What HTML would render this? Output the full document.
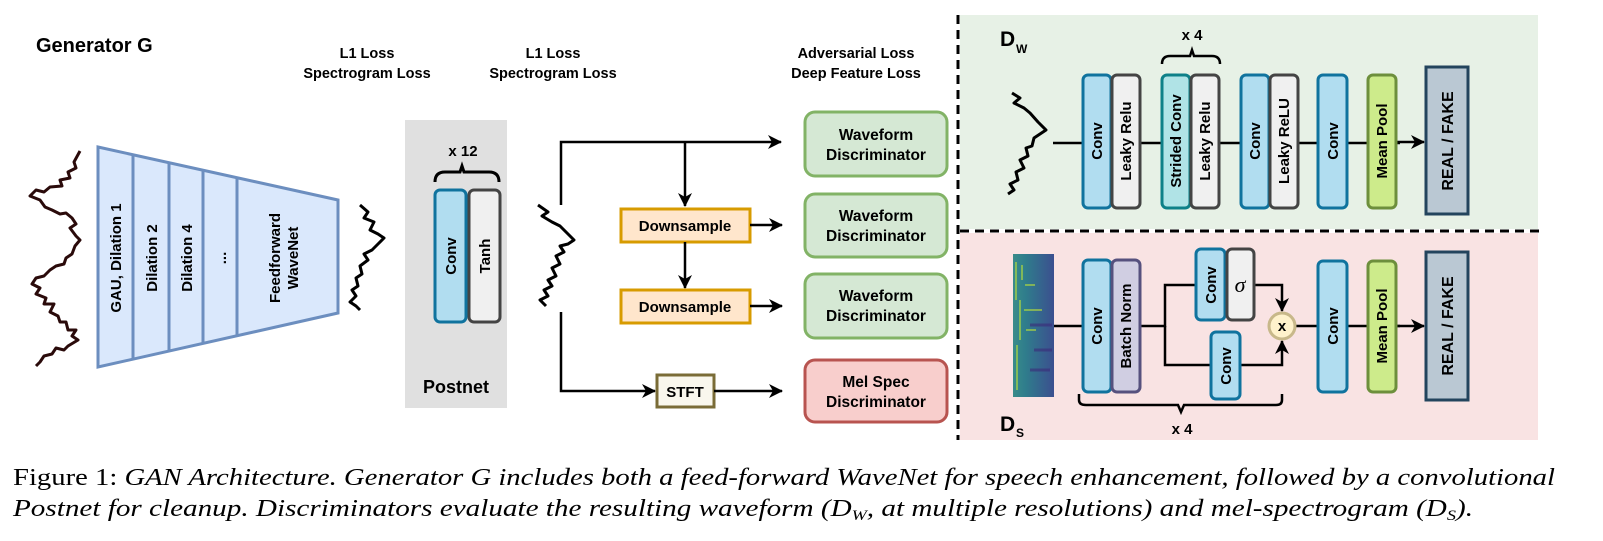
<!DOCTYPE html>
<html><head><meta charset="utf-8"><style>
html,body{margin:0;padding:0;background:#fff;width:1603px;height:541px;overflow:hidden}
text{font-family:"Liberation Sans",Arial,sans-serif;font-weight:bold}
.cap{font-family:"Liberation Serif","Times New Roman",serif;font-weight:normal;font-size:24px}
</style></head><body>
<svg width="1603" height="541" viewBox="0 0 1603 541" xmlns="http://www.w3.org/2000/svg">
<defs>
<marker id="ar" markerWidth="14" markerHeight="14" refX="13" refY="7" orient="auto" markerUnits="userSpaceOnUse"><path d="M0,0 L14,7 L0,14 L4,7 z" fill="#000"/></marker>
<linearGradient id="sp" x1="0" y1="0" x2="1" y2="0"><stop offset="0" stop-color="#3a8c8a"/><stop offset="0.3" stop-color="#2f7d8c"/><stop offset="1" stop-color="#3b4f8f"/></linearGradient>
</defs>

<rect x="960" y="15" width="578" height="214" fill="#e7f1e6"/>
<rect x="960" y="233" width="578" height="207" fill="#f9e3e3"/>
<line x1="958" y1="15" x2="958" y2="440" stroke="#000" stroke-width="3" stroke-dasharray="9,6"/>
<line x1="960" y1="231" x2="1540" y2="231" stroke="#000" stroke-width="3" stroke-dasharray="9,6"/>

<text x="36" y="52" font-size="20">Generator G</text>
<g font-size="14.5" text-anchor="middle">
<text x="367" y="58">L1 Loss</text>
<text x="367" y="78">Spectrogram Loss</text>
<text x="553" y="78">Spectrogram Loss</text>
<text x="553" y="78" dy="-20" >L1 Loss</text>
<text x="856" y="58">Adversarial Loss</text>
<text x="856" y="78">Deep Feature Loss</text>
</g>

<polyline fill="none" stroke="#2a0a0a" stroke-width="3" stroke-linejoin="round" points="80,151 74,162 76,168 68,172 70,178 60,180 62,186 50,187 44,192 36,190 30,196 40,200 45,207 52,210 60,214 66,213 72,218 76,224 70,228 76,236 80,240 75,246 72,254 66,258 64,264 56,266 50,270 44,276 36,278 32,284 40,288 36,294 46,298 44,304 54,304 50,312 58,316 60,322 66,322 68,330 76,330 72,336 78,340 68,346 64,350 56,348 52,354 44,356 40,362 36,366"/>

<polygon points="98,147 338,200 338,313 98,367" fill="#dae8fc" stroke="#6c8ebf" stroke-width="3"/>
<line x1="133" y1="155" x2="133" y2="359" stroke="#6c8ebf" stroke-width="3"/>
<line x1="169" y1="163" x2="169" y2="351" stroke="#6c8ebf" stroke-width="3"/>
<line x1="203" y1="170" x2="203" y2="344" stroke="#6c8ebf" stroke-width="3"/>
<line x1="237" y1="178" x2="237" y2="336" stroke="#6c8ebf" stroke-width="3"/>
<g font-size="15" text-anchor="middle">
<text transform="translate(121,258) rotate(-90)">GAU, Dilation 1</text>
<text transform="translate(157,258) rotate(-90)">Dilation 2</text>
<text transform="translate(192,258) rotate(-90)">Dilation 4</text>
<text transform="translate(226,258) rotate(-90)">...</text>
<text transform="translate(280,258) rotate(-90)">Feedforward</text>
<text transform="translate(298,258) rotate(-90)">WaveNet</text>
</g>

<polyline fill="none" stroke="#000" stroke-width="3" stroke-linejoin="round" points="360,205 368,212 364,218 374,222 370,230 378,234 384,238 378,244 372,250 364,254 368,260 360,266 362,274 356,278 358,286 352,290 356,296 350,302 356,306 360,310"/>

<rect x="405" y="120" width="102" height="288" fill="#e0e0e0"/>
<text x="463" y="156" font-size="15" text-anchor="middle">x 12</text>
<path d="M435,182 Q435,172 445,172 L460,172 L462,166 L464,172 L489,172 Q499,172 499,182" fill="none" stroke="#000" stroke-width="3"/>
<rect x="435" y="190" width="31" height="132" rx="5" fill="#b1ddf0" stroke="#10739e" stroke-width="3"/>
<rect x="469" y="190" width="31" height="132" rx="5" fill="#f0f0f0" stroke="#444" stroke-width="3"/>
<text transform="translate(456,256) rotate(-90)" font-size="15" text-anchor="middle">Conv</text>
<text transform="translate(490,256) rotate(-90)" font-size="15" text-anchor="middle">Tanh</text>
<text x="456" y="393" font-size="18" text-anchor="middle">Postnet</text>

<polyline fill="none" stroke="#000" stroke-width="3" stroke-linejoin="round" points="538,205 548,212 542,216 552,222 560,226 566,232 574,240 568,244 560,246 564,252 556,256 560,264 552,268 556,276 548,280 552,286 544,290 548,296 540,300 546,306"/>
<polyline fill="none" stroke="#000" stroke-width="2.5" points="561,205 561,142 781,142" marker-end="url(#ar)"/>
<line x1="685" y1="142" x2="685" y2="206" stroke="#000" stroke-width="2.5" marker-end="url(#ar)"/>
<rect x="621" y="209" width="129" height="33" fill="#ffe6cc" stroke="#d79b00" stroke-width="3"/>
<text x="685" y="231" font-size="15" text-anchor="middle">Downsample</text>
<line x1="750" y1="225" x2="782" y2="225" stroke="#000" stroke-width="2.5" marker-end="url(#ar)"/>
<line x1="685" y1="242" x2="685" y2="288" stroke="#000" stroke-width="2.5" marker-end="url(#ar)"/>
<rect x="621" y="290" width="129" height="33" fill="#ffe6cc" stroke="#d79b00" stroke-width="3"/>
<text x="685" y="312" font-size="15" text-anchor="middle">Downsample</text>
<line x1="750" y1="306" x2="782" y2="306" stroke="#000" stroke-width="2.5" marker-end="url(#ar)"/>
<polyline fill="none" stroke="#000" stroke-width="2.5" points="561,312 561,391 655,391" marker-end="url(#ar)"/>
<rect x="657" y="375" width="57" height="32" fill="#f9f7ed" stroke="#7a6c37" stroke-width="3"/>
<text x="685" y="397" font-size="15" text-anchor="middle">STFT</text>
<line x1="714" y1="391" x2="782" y2="391" stroke="#000" stroke-width="2.5" marker-end="url(#ar)"/>

<g font-size="15.5" text-anchor="middle">
<rect x="805" y="112" width="142" height="64" rx="10" fill="#d5e8d4" stroke="#82b366" stroke-width="3"/>
<text x="876" y="140">Waveform</text><text x="876" y="160">Discriminator</text>
<rect x="805" y="194" width="142" height="63" rx="10" fill="#d5e8d4" stroke="#82b366" stroke-width="3"/>
<text x="876" y="221">Waveform</text><text x="876" y="241">Discriminator</text>
<rect x="805" y="274" width="142" height="64" rx="10" fill="#d5e8d4" stroke="#82b366" stroke-width="3"/>
<text x="876" y="301">Waveform</text><text x="876" y="321">Discriminator</text>
<rect x="805" y="360" width="142" height="62" rx="10" fill="#f8cecc" stroke="#b85450" stroke-width="3"/>
<text x="876" y="387">Mel Spec</text><text x="876" y="407">Discriminator</text>
</g>

<text x="1000" y="46" font-size="21">D</text><text x="1016" y="53" font-size="12">W</text>
<polyline fill="none" stroke="#000" stroke-width="3" stroke-linejoin="round" points="1012,93 1020,98 1014,103 1024,108 1030,113 1038,122 1046,130 1040,134 1034,138 1032,146 1026,148 1028,156 1020,160 1024,168 1016,172 1018,180 1010,184 1014,190 1008,194"/>
<line x1="1053" y1="143" x2="1400" y2="143" stroke="#000" stroke-width="2.5"/>
<line x1="1396" y1="142" x2="1424" y2="142" stroke="#000" stroke-width="2.5" marker-end="url(#ar)"/>
<text x="1192" y="40" font-size="15" text-anchor="middle">x 4</text>
<path d="M1162,64 Q1162,56 1170,56 L1190,56 L1192,50 L1194,56 L1212,56 Q1220,56 1220,64" fill="none" stroke="#000" stroke-width="2.5"/>
<g stroke-width="3">
<rect x="1083" y="75" width="28" height="133" rx="5" fill="#b1ddf0" stroke="#10739e"/>
<rect x="1112" y="75" width="28" height="133" rx="5" fill="#f0f0f0" stroke="#444"/>
<rect x="1162" y="75" width="28" height="133" rx="5" fill="#b0e3e6" stroke="#0e8088"/>
<rect x="1191" y="75" width="28" height="133" rx="5" fill="#f0f0f0" stroke="#444"/>
<rect x="1241" y="75" width="28" height="133" rx="5" fill="#b1ddf0" stroke="#10739e"/>
<rect x="1270" y="75" width="28" height="133" rx="5" fill="#f0f0f0" stroke="#444"/>
<rect x="1318" y="75" width="29" height="133" rx="5" fill="#b1ddf0" stroke="#10739e"/>
<rect x="1368" y="75" width="28" height="133" rx="5" fill="#cdeb8b" stroke="#6d8f3c"/>
<rect x="1426" y="67" width="42" height="147" fill="#bac8d3" stroke="#23445d"/>
</g>
<g font-size="15" text-anchor="middle">
<text transform="translate(1102,141) rotate(-90)">Conv</text>
<text transform="translate(1131,141) rotate(-90)">Leaky Relu</text>
<text transform="translate(1181,141) rotate(-90)">Strided Conv</text>
<text transform="translate(1210,141) rotate(-90)">Leaky Relu</text>
<text transform="translate(1260,141) rotate(-90)">Conv</text>
<text transform="translate(1289,141) rotate(-90)">Leaky ReLU</text>
<text transform="translate(1338,141) rotate(-90)">Conv</text>
<text transform="translate(1387,141) rotate(-90)">Mean Pool</text>
<text transform="translate(1453,141) rotate(-90)" font-size="16">REAL / FAKE</text>
</g>

<rect x="1013" y="254" width="41" height="143" fill="url(#sp)"/>
<g stroke="#b7dd3a" stroke-width="1.5" opacity="0.8">
<line x1="1016" y1="262" x2="1016" y2="300"/><line x1="1020" y1="300" x2="1020" y2="340"/><line x1="1017" y1="345" x2="1017" y2="390"/>
<line x1="1025" y1="285" x2="1035" y2="285"/><line x1="1024" y1="310" x2="1042" y2="310"/>
<line x1="1022" y1="265" x2="1022" y2="280"/><line x1="1026" y1="330" x2="1036" y2="330"/>
</g>
<g stroke="#3b2a7a" stroke-width="3" opacity="0.6">
<line x1="1030" y1="325" x2="1052" y2="325"/><line x1="1034" y1="350" x2="1052" y2="350"/><line x1="1030" y1="370" x2="1050" y2="370"/>
</g>
<line x1="1054" y1="326" x2="1083" y2="326" stroke="#000" stroke-width="2.5"/>
<polyline fill="none" stroke="#000" stroke-width="2.5" points="1140,326 1165,326 1165,285 1196,285"/>
<polyline fill="none" stroke="#000" stroke-width="2.5" points="1165,326 1165,365 1211,365"/>
<polyline fill="none" stroke="#000" stroke-width="2.5" points="1254,285 1282,285 1282,311" marker-end="url(#ar)"/>
<polyline fill="none" stroke="#000" stroke-width="2.5" points="1240,365 1282,365 1282,341" marker-end="url(#ar)"/>
<line x1="1295" y1="326" x2="1400" y2="326" stroke="#000" stroke-width="2.5"/>
<line x1="1396" y1="326" x2="1424" y2="326" stroke="#000" stroke-width="2.5" marker-end="url(#ar)"/>
<g stroke-width="3">
<rect x="1083" y="260" width="28" height="132" rx="5" fill="#b1ddf0" stroke="#10739e"/>
<rect x="1112" y="260" width="28" height="132" rx="5" fill="#d0cee2" stroke="#56517e"/>
<rect x="1196" y="249" width="29" height="71" rx="5" fill="#b1ddf0" stroke="#10739e"/>
<rect x="1227" y="249" width="27" height="71" rx="5" fill="#f0f0f0" stroke="#444"/>
<rect x="1211" y="332" width="29" height="67" rx="5" fill="#b1ddf0" stroke="#10739e"/>
<circle cx="1282" cy="326" r="13" fill="#fff2cc" stroke="#c8b88a"/>
<rect x="1318" y="261" width="29" height="131" rx="5" fill="#b1ddf0" stroke="#10739e"/>
<rect x="1368" y="261" width="28" height="131" rx="5" fill="#cdeb8b" stroke="#6d8f3c"/>
<rect x="1426" y="252" width="42" height="148" fill="#bac8d3" stroke="#23445d"/>
</g>
<g font-size="15" text-anchor="middle">
<text transform="translate(1102,326) rotate(-90)">Conv</text>
<text transform="translate(1131,326) rotate(-90)">Batch Norm</text>
<text transform="translate(1216,285) rotate(-90)">Conv</text>
<text x="1240" y="292" style="font-family:'Liberation Serif',serif;font-style:italic;font-weight:normal;font-size:22px">σ</text>
<text transform="translate(1231,366) rotate(-90)">Conv</text>
<text x="1282" y="331">x</text>
<text transform="translate(1338,326) rotate(-90)">Conv</text>
<text transform="translate(1387,326) rotate(-90)">Mean Pool</text>
<text transform="translate(1453,326) rotate(-90)" font-size="16">REAL / FAKE</text>
</g>
<path d="M1079,394 L1079,400 Q1079,405 1086,405 L1178,405 L1181,412 L1184,405 L1276,405 Q1282,405 1282,400 L1282,394" fill="none" stroke="#000" stroke-width="2.5"/>
<text x="1182" y="434" font-size="15" text-anchor="middle">x 4</text>
<text x="1000" y="431" font-size="21">D</text><text x="1016" y="437" font-size="12">S</text>

<text class="cap" x="13" y="485" textLength="1542" lengthAdjust="spacingAndGlyphs">Figure 1: <tspan font-style="italic">GAN Architecture. Generator G includes both a feed-forward WaveNet for speech enhancement, followed by a convolutional</tspan></text>
<text class="cap" x="13" y="516" font-style="italic" textLength="1460" lengthAdjust="spacingAndGlyphs">Postnet for cleanup. Discriminators evaluate the resulting waveform (D<tspan font-size="15" dy="4">W</tspan><tspan dy="-4">, at multiple resolutions) and mel-spectrogram (D</tspan><tspan font-size="15" dy="4">S</tspan><tspan dy="-4">).</tspan></text>
</svg>
</body></html>
